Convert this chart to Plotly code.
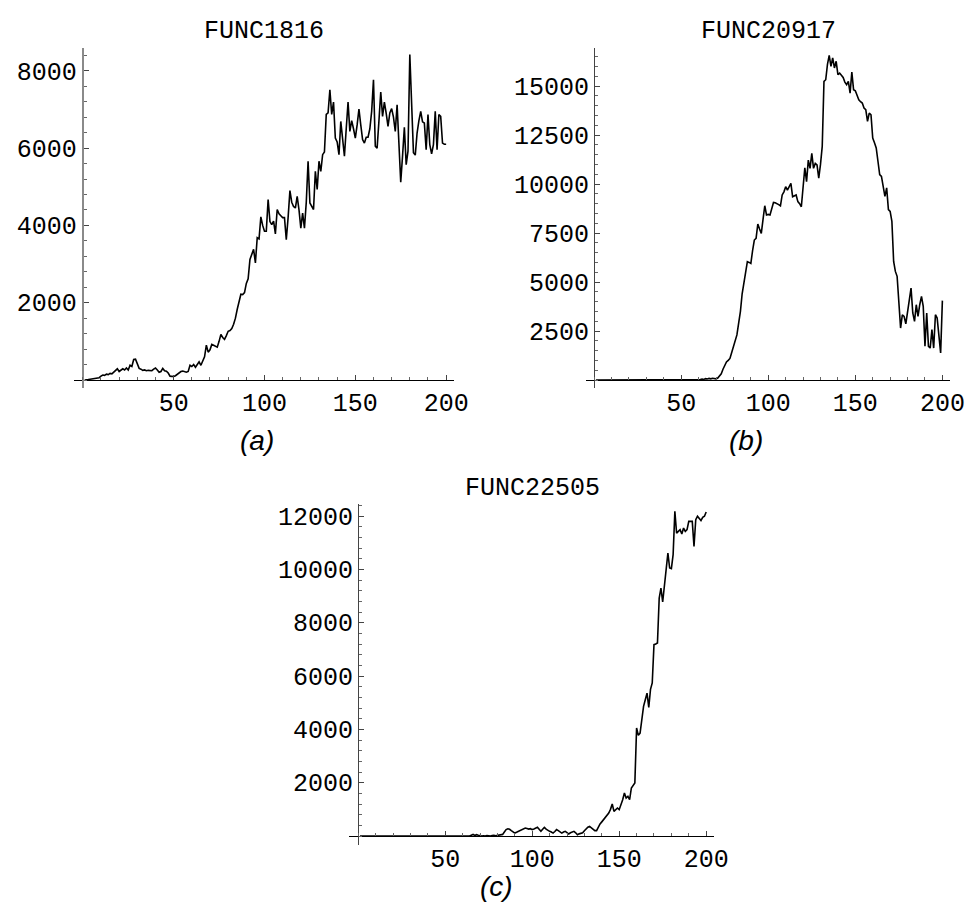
import plotly.graph_objects as go

# ---------------- data ----------------
days = list(range(1, 201))

func1816 = [
    0, 0, 10, 20, 30, 40, 40, 50, 60, 100,
    130, 120, 150, 140, 170, 160, 200, 230, 290, 220,
    250, 290, 260, 310, 260, 380, 350, 530, 540, 400,
    300, 280, 250, 260, 240, 250, 240, 240, 280, 310,
    260, 200, 220, 300, 240, 230, 180, 100, 95, 90,
    110, 150, 170, 220, 230, 210, 200, 220, 380, 350,
    400, 330, 420, 470, 380, 480, 600, 900, 720, 780,
    920, 900, 880, 850, 1000, 1180, 1100, 1050, 1150, 1260,
    1280, 1330, 1440, 1600, 1830, 2000, 2220, 2210, 2260, 2500,
    2620, 3120, 3250, 3380, 3030, 3680, 3650, 4220, 4000, 3850,
    3850, 4670, 4100, 4020, 4110, 3780, 4410, 4300, 4250, 4200,
    4200, 3630, 4200, 4900, 4600, 4490, 4450, 4750, 4400, 3930,
    4320, 3930, 4600, 5660, 4580, 4500, 4410, 5400, 4930, 5660,
    5400, 5830, 5900, 6870, 6910, 7510, 6870, 7190, 6260, 6160,
    5830, 6690, 6200, 5790, 6500, 7190, 6430, 6710, 6500, 6260,
    6600, 7010, 6600, 6220, 6130, 6280, 6280, 6500, 6950, 7770,
    6050, 6000, 6700, 7450, 6820, 7190, 6900, 6560, 6910, 7020,
    6800, 6430, 7120, 6000, 5120, 5800, 6540, 5570, 5920, 8420,
    7000, 5880, 5820, 6390, 6710, 6950, 6680, 6650, 5960, 6870,
    6090, 5850, 6090, 6950, 5960, 6870, 6820, 6130, 6100, 6100,
]

func20917 = [0] * 60 + [
    20, 50, 30, 70, 50, 80, 60, 90, 70, 60,
    100, 200, 320, 550, 750, 920, 1000, 1100, 1400, 1700,
    2000, 2300, 2900, 3490, 4400, 4900, 5360, 6040, 6000, 5950,
    6600, 7140, 7230, 7960, 7700, 7480, 8200, 8890, 8420, 8450,
    8420, 8800, 9060, 9040, 9010, 8950, 8890, 9440, 9600, 9860,
    9690, 9850, 10030, 9350, 9400, 9440, 9100, 9000, 8840, 9900,
    10830, 10120, 11220, 10800, 11560, 10800, 11050, 10970, 10300, 11000,
    11920, 15240, 15320, 16100, 16560, 16000, 16430, 15920, 16260, 15580,
    15660, 15550, 15440, 15200, 15070, 15240, 14640, 15710, 14810, 14760,
    14500, 14300, 14200, 14130, 13880, 13790, 13200, 13620, 13530, 12340,
    12100, 11840, 11160, 10480, 10390, 9880, 9370, 9800, 8690, 8600,
    8100, 6050, 5540, 5290, 4180, 2650, 3330, 3250, 2860, 3500,
    4000, 4690, 3420, 2990, 3840, 3250, 3840, 4270, 3760, 1720,
    3420, 1720, 1630, 2570, 1630, 3330, 3160, 2200, 1380, 4050,
]

func22505 = [0] * 64 + [
    30, 60, 20, 50, 30, 10,
    0, 10, 0, 20, 10, 0, 20, 30, 10, 20,
    40, 50, 60, 150, 240, 270, 250, 200, 150, 110,
    140, 175, 220, 260, 290, 300, 280, 260, 275, 240,
    260, 290, 325, 250, 175, 250, 325, 260, 210, 175,
    150, 110, 170, 240, 200, 150, 110, 150, 175, 130,
    75, 120, 150, 175, 120, 50, 80, 110, 120, 200,
    280, 330, 362, 300, 250, 200, 200, 362, 450, 530,
    612, 700, 780, 862, 1000, 1200, 925, 1000, 1050, 987,
    1150, 1360, 1612, 1425, 1490, 1360, 1800, 1925, 1990, 4050,
    3775, 3860, 4360, 4860, 5110, 5360, 4825, 5500, 5740, 7175,
    7200, 7240, 8925, 9300, 8775, 9550, 10000, 10610, 10050, 10025,
    10550, 12175, 11360, 11425, 11490, 11325, 11550, 11425, 11490, 11800,
    11800, 11800, 10860, 11860, 11990, 11900, 11830, 11950, 11990, 12150,
]

titles = ["FUNC1816", "FUNC20917", "FUNC22505"]
panel_labels = ["(a)", "(b)", "(c)"]
x_ticks = [50, 100, 150, 200]
y_ticks = [
    [2000, 4000, 6000, 8000],
    [2500, 5000, 7500, 10000, 12500, 15000],
    [2000, 4000, 6000, 8000, 10000, 12000],
]
y_minor = [400, 500, 400]

# ---------------- layout geometry (pixels) ----------------
W, H = 974, 905
geom = [
    dict(xl=66.7, xr=453.0, x0=76.0, xs=1.845, yt=40.0, yb=380.0, y0=372.0, ys=77.3 / 2000,
         axcol="#8a8a8a", axw=2.0, tx=260, ty=23, lx=253, ly=433),
    dict(xl=586.7, xr=956.7, x0=595.3, xs=1.7685, yt=40.0, yb=380.0, y0=372.0, ys=49.0 / 2500,
         axcol="#444444", axw=1.2, tx=772, ty=23, lx=750, ly=433),
    dict(xl=346.0, xr=716.7, x0=355.7, xs=1.767, yt=496.0, yb=836.7, y0=828.0, ys=53.33 / 2000,
         axcol="#444444", axw=1.2, tx=533, ty=480, lx=496, ly=878),
]

series = [func1816, func20917, func22505]

fig = go.Figure()
tickfont = dict(family="Liberation Mono, Courier New, monospace", size=25, color="black")
annotations = []

for i, (g, ys_data) in enumerate(zip(geom, series)):
    sfx = "" if i == 0 else str(i + 1)
    xr = [(g["xl"] - g["x0"]) / g["xs"], (g["xr"] - g["x0"]) / g["xs"]]
    yr = [(g["y0"] - g["yb"]) / g["ys"], (g["y0"] - g["yt"]) / g["ys"]]
    fig.add_trace(go.Scatter(
        x=days, y=ys_data, mode="lines",
        line=dict(color="black", width=1.6),
        xaxis="x" + sfx, yaxis="y" + sfx, showlegend=False, hoverinfo="skip",
    ))
    fig.layout["xaxis" + sfx] = dict(
        domain=[g["xl"] / W, g["xr"] / W], range=xr,
        anchor="free", position=1 - g["y0"] / H,
        showline=True, linecolor="black", linewidth=1.4,
        showgrid=False, zeroline=False,
        tickmode="array", tickvals=x_ticks, ticktext=[str(v) for v in x_ticks],
        ticks="inside", ticklen=5, tickcolor="#444", tickwidth=1,
        minor=dict(tickmode="linear", tick0=0, dtick=10, ticks="inside",
                   ticklen=3, tickcolor="#666", tickwidth=1),
        tickfont=tickfont, fixedrange=True,
    )
    fig.layout["yaxis" + sfx] = dict(
        domain=[1 - g["yb"] / H, 1 - g["yt"] / H], range=yr,
        anchor="free", position=g["x0"] / W,
        showline=True, linecolor=g["axcol"], linewidth=g["axw"],
        showgrid=False, zeroline=False,
        tickmode="array", tickvals=y_ticks[i], ticktext=[str(v) for v in y_ticks[i]],
        ticks="inside", ticklen=5, tickcolor="#444", tickwidth=1,
        minor=dict(tickmode="linear", tick0=0, dtick=y_minor[i], ticks="inside",
                   ticklen=3, tickcolor="#666", tickwidth=1),
        tickfont=tickfont, fixedrange=True,
    )
    annotations.append(dict(
        text=titles[i], x=g["tx"] / W, y=1 - g["ty"] / H, xref="paper", yref="paper",
        xanchor="center", yanchor="middle", showarrow=False,
        font=dict(family="Liberation Mono, Courier New, monospace", size=25, color="black"),
    ))
    annotations.append(dict(
        text="<i>" + panel_labels[i] + "</i>", x=g["lx"] / W, y=1 - g["ly"] / H,
        xref="paper", yref="paper", xanchor="center", yanchor="middle", showarrow=False,
        font=dict(family="Liberation Sans, Arial, sans-serif", size=28, color="black"),
    ))

fig.update_layout(
    width=W, height=H, autosize=False,
    margin=dict(l=0, r=0, t=0, b=0),
    paper_bgcolor="white", plot_bgcolor="white",
    annotations=annotations,
)

fig.write_html("out.html")
